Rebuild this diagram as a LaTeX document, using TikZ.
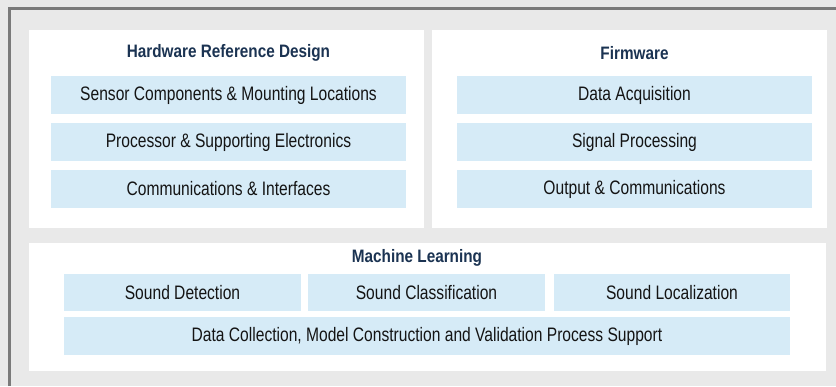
\documentclass[tikz,border=0pt]{standalone}
\usepackage{fontspec}
\setmainfont[FakeStretch=0.85]{Liberation Sans}
\newfontfamily\itemfont[FakeStretch=0.80]{Liberation Sans}
\definecolor{bgray}{HTML}{E9E9E9}
\definecolor{bord}{HTML}{7A7A7A}
\definecolor{lblue}{HTML}{D6EBF7}
\definecolor{navy}{HTML}{1B3352}
\definecolor{txt}{HTML}{141414}
\begin{document}
\begin{tikzpicture}[x=1pt,y=-1pt,
  panel/.style={fill=white,draw=none},
  item/.style={fill=lblue,draw=none,inner sep=0pt,text=txt,font=\itemfont\fontsize{19.5}{22}\selectfont},
  ttl/.style={text=navy,font=\bfseries\fontsize{18}{20}\selectfont,inner sep=0pt}]
\useasboundingbox (0,0) rectangle (836,386);
\fill[bgray] (0,0) rectangle (836,386);
\draw[bord,line width=3pt] (9.5,386) -- (9.5,8) -- (836,8);
% panels
\fill[panel] (29,30) rectangle (424,228);
\fill[panel] (432,30) rectangle (827,228);
\fill[panel] (29,243) rectangle (826,371);
% titles
\node[ttl] (hwt) at (228.5,53) {Hardware Reference Design};
\node[ttl] (fwt) at (634.5,53) {Firmware};
\node[ttl] (mlt) at (417,258) {Machine Learning};
% hardware items
\node[item,minimum width=355pt,minimum height=38pt] (hw1) at (228.5,95) {Sensor Components \& Mounting Locations};
\node[item,minimum width=355pt,minimum height=38pt] (hw2) at (228.5,142) {Processor \& Supporting Electronics};
\node[item,minimum width=355pt,minimum height=38pt] (hw3) at (228.5,189) {Communications \& Interfaces};
% firmware items
\node[item,minimum width=355pt,minimum height=38pt] (fw1) at (634.5,95) {Data Acquisition};
\node[item,minimum width=355pt,minimum height=38pt] (fw2) at (634.5,142) {Signal Processing};
\node[item,minimum width=355pt,minimum height=38pt] (fw3) at (634.5,189) {Output \& Communications};
% ML items
\node[item,minimum width=237pt,minimum height=37pt] (ml1) at (182.5,292.5) {Sound Detection};
\node[item,minimum width=237pt,minimum height=37pt] (ml2) at (426.5,292.5) {Sound Classification};
\node[item,minimum width=236pt,minimum height=37pt] (ml3) at (672,292.5) {Sound Localization};
\node[item,minimum width=726pt,minimum height=38pt] (ml4) at (427,336) {Data Collection, Model Construction and Validation Process Support};
\end{tikzpicture}
\end{document}
